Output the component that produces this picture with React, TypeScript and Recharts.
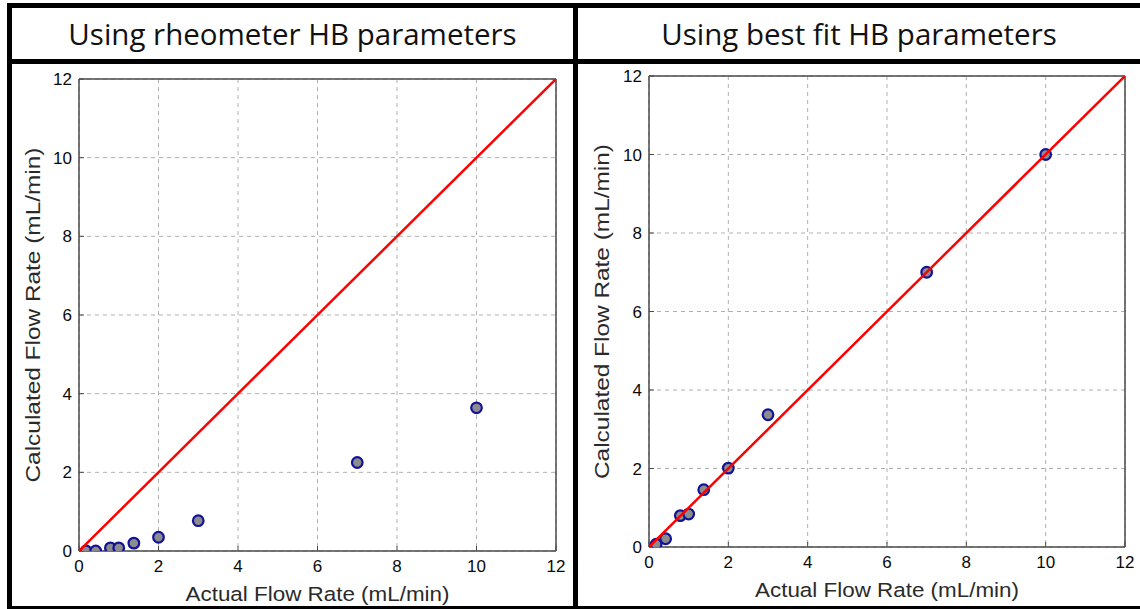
import React from 'react';
import { ScatterChart, Scatter, XAxis, YAxis, CartesianGrid, Label } from 'recharts';

// ---- data ----
const axisTicks = [0, 2, 4, 6, 8, 10, 12];
const actualFlow = [0.18, 0.42, 0.79, 1.0, 1.38, 2.0, 3.0, 7.0, 10.0];
const rheometerCalc = [0.0, 0.0, 0.08, 0.08, 0.2, 0.35, 0.77, 2.25, 3.64];
const bestFitCalc = [0.07, 0.21, 0.8, 0.84, 1.46, 2.01, 3.37, 7.0, 10.0];
const identityLine = [0, 12];
const panelTitles = ['Using rheometer HB parameters', 'Using best fit HB parameters'];
const xAxisLabel = 'Actual Flow Rate (mL/min)';
const yAxisLabel = 'Calculated Flow Rate (mL/min)';

const FONT = '"Liberation Sans", Arial, Helvetica, sans-serif';
const AXIS_COLOR = '#4a4a4a';

type PanelProps = {
  left: number;
  top: number;
  width: number;
  height: number;
  margin: { top: number; right: number; bottom: number; left: number };
  yValues: number[];
  xLabelOffset: number;
  yLabelOffset: number;
};

const Marker = (p: any) => {
  if (p.cx == null || p.cy == null) return <g />;
  return <circle cx={p.cx} cy={p.cy} r={5.3} fill="#8c8c8c" stroke="#12129a" strokeWidth={2.2} />;
};

const Panel = ({ left, top, width, height, margin, yValues, xLabelOffset, yLabelOffset }: PanelProps) => {
  const points = actualFlow.map((x, i) => ({ x, y: yValues[i] }));
  const lineData = identityLine.map((v) => ({ x: v, y: v }));
  const tickStyle = { fontSize: 17, fill: '#0a0a0a', fontFamily: FONT };
  // axes are 1px in size so that they render; margins are reduced by that 1px
  const m = { top: margin.top - 1, right: margin.right - 1, bottom: margin.bottom - 1, left: margin.left - 1 };
  return (
    <div style={{ position: 'absolute', left, top, width, height }}>
      <ScatterChart width={width} height={height} margin={m}>
        <CartesianGrid stroke="#b0b0b0" strokeDasharray="4 4" strokeWidth={1} />
        <XAxis
          type="number"
          dataKey="x"
          domain={[0, 12]}
          ticks={axisTicks}
          height={1}
          tick={tickStyle}
          tickSize={-5}
          tickMargin={14}
          tickLine={{ stroke: AXIS_COLOR }}
          axisLine={{ stroke: AXIS_COLOR, strokeWidth: 1.5 }}
          allowDataOverflow
        >
          <Label
            content={(props: any) => {
              const vb = props.viewBox || {};
              return (
                <text
                  x={vb.x + vb.width / 2}
                  y={vb.y + xLabelOffset}
                  textAnchor="middle"
                  dominantBaseline="central"
                  fontSize={20.5}
                  textLength={264}
                  lengthAdjust="spacingAndGlyphs"
                  fill="#2a2a2a"
                  fontFamily={FONT}
                >
                  {xAxisLabel}
                </text>
              );
            }}
          />
        </XAxis>
        <XAxis
          xAxisId="top"
          orientation="top"
          type="number"
          dataKey="x"
          domain={[0, 12]}
          ticks={axisTicks}
          height={1}
          tick={false}
          tickSize={-5}
          tickLine={{ stroke: AXIS_COLOR }}
          axisLine={{ stroke: AXIS_COLOR, strokeWidth: 1.5 }}
        />
        <YAxis
          type="number"
          dataKey="y"
          domain={[0, 12]}
          ticks={axisTicks}
          width={1}
          tick={tickStyle}
          tickSize={-5}
          tickMargin={12}
          tickLine={{ stroke: AXIS_COLOR }}
          axisLine={{ stroke: AXIS_COLOR, strokeWidth: 1.5 }}
          allowDataOverflow
        >
          <Label
            content={(props: any) => {
              const vb = props.viewBox || {};
              const cx = vb.x + vb.width - yLabelOffset;
              const cy = vb.y + vb.height / 2;
              return (
                <text
                  x={cx}
                  y={cy}
                  transform={`rotate(-90 ${cx} ${cy})`}
                  textAnchor="middle"
                  dominantBaseline="central"
                  fontSize={20.5}
                  textLength={335}
                  lengthAdjust="spacingAndGlyphs"
                  fill="#2a2a2a"
                  fontFamily={FONT}
                >
                  {yAxisLabel}
                </text>
              );
            }}
          />
        </YAxis>
        <YAxis
          yAxisId="right"
          orientation="right"
          type="number"
          dataKey="y"
          domain={[0, 12]}
          ticks={axisTicks}
          width={1}
          tick={false}
          tickSize={-5}
          tickLine={{ stroke: AXIS_COLOR }}
          axisLine={{ stroke: AXIS_COLOR, strokeWidth: 1.5 }}
        />
        <Scatter data={points} shape={Marker} isAnimationActive={false} />
        <Scatter
          data={lineData}
          line={{ stroke: '#ff0000', strokeWidth: 2.5 }}
          shape={() => <g />}
          isAnimationActive={false}
        />
      </ScatterChart>
    </div>
  );
};

const Bar = ({ x, y, w, h }: { x: number; y: number; w: number; h: number }) => (
  <div style={{ position: 'absolute', left: x, top: y, width: w, height: h, background: '#000' }} />
);

const Title = ({ x, w, text }: { x: number; w: number; text: string }) => (
  <div
    style={{
      position: 'absolute',
      left: x,
      top: 8,
      width: w,
      height: 51,
      display: 'flex',
      alignItems: 'center',
      justifyContent: 'center',
      fontFamily: '"Open Sans", "Noto Sans", sans-serif',
      fontSize: 29.5,
      color: '#111',
      whiteSpace: 'nowrap',
    }}
  >
    {text}
  </div>
);

export default function App() {
  return (
    <div
      style={{
        position: 'absolute',
        left: 0,
        top: 0,
        width: 1140,
        height: 609,
        background: '#fff',
        overflow: 'hidden',
      }}
    >
      <Panel
        left={0}
        top={64}
        width={573}
        height={542}
        margin={{ top: 15, right: 17, bottom: 55, left: 79 }}
        yValues={rheometerCalc}
        xLabelOffset={42}
        yLabelOffset={47}
      />
      <Panel
        left={578}
        top={64}
        width={562}
        height={542}
        margin={{ top: 12, right: 15, bottom: 59, left: 71 }}
        yValues={bestFitCalc}
        xLabelOffset={42}
        yLabelOffset={48}
      />
      <Title x={12} w={561} text={panelTitles[0]} />
      <Title x={578} w={562} text={panelTitles[1]} />
      {/* frame */}
      <Bar x={7} y={3} w={1133} h={5} />
      <Bar x={7} y={3} w={5} h={606} />
      <Bar x={7} y={59} w={1133} h={5} />
      <Bar x={573} y={3} w={5} h={606} />
      <Bar x={7} y={606} w={1133} h={3} />
    </div>
  );
}
